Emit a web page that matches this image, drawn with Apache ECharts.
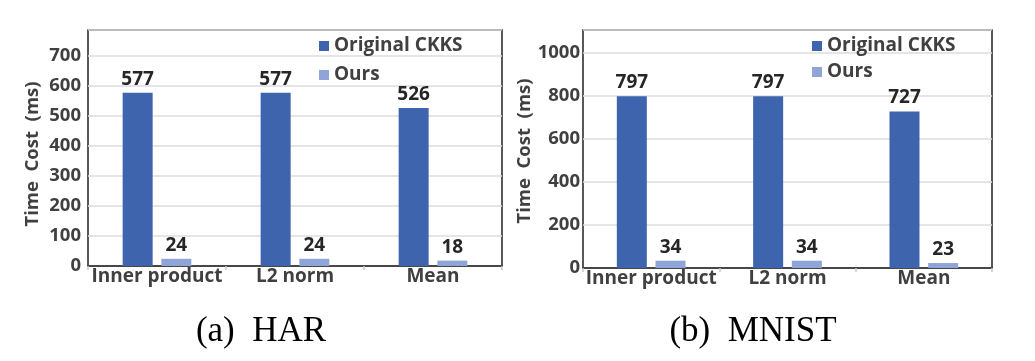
<!DOCTYPE html>
<html>
<head>
<meta charset="utf-8">
<script src="https://cdn.jsdelivr.net/npm/echarts@6/dist/echarts.min.js"></script>
<style>
html,body{margin:0;padding:0;background:#fff;}
#chart{width:1035px;height:361px;}
</style>
</head>
<body>
<div id="chart"></div>
<script>
const categories = ['Inner product', 'L2 norm', 'Mean'];
const seriesNames = ['Original CKKS', 'Ours'];
const harOriginal = [577, 577, 526];
const harOurs = [24, 24, 18];
const mnistOriginal = [797, 797, 727];
const mnistOurs = [34, 34, 23];
const captions = ['(a)  HAR', '(b)  MNIST'];
const yName = 'Time  Cost  (ms)';

const DARK = '#3D64AD';
const LIGHT = '#8FA5D7';
const FONT = '"Open Sans"';
const TXT = '#404040';

const chart = echarts.init(document.getElementById('chart'), null, {renderer: 'canvas'});

function xAxis(gi) {
  return {
    type: 'category', gridIndex: gi, data: categories,
    axisLine: {show: true, lineStyle: {color: '#222', width: 1.5}},
    axisTick: {show: true, length: 4, lineStyle: {color: '#c8c8c8', width: 1.5}},
    axisLabel: {color: TXT, fontFamily: FONT, fontWeight: 'bold', fontSize: 19, margin: 1,
                interval: 0, hideOverlap: false, align: 'center'}
  };
}
function yAxis(gi, max, interval, margin, shift) {
  return {
    type: 'value', gridIndex: gi, min: 0, max: max, interval: interval,
    name: yName, nameLocation: 'middle', nameGap: 46,
    nameTextStyle: {color: TXT, fontFamily: FONT, fontWeight: 'bold', fontSize: 18.5,
                    padding: [0, shift, 0, 0]},
    axisLine: {show: false}, axisTick: {show: false},
    splitLine: {show: true, lineStyle: {color: '#dcdcdc', width: 1.5}},
    axisLabel: {color: TXT, fontFamily: FONT, fontWeight: 'bold', fontSize: 18.5, margin: margin,
                showMaxLabel: false, formatter: function (v) { return String(v); }}
  };
}
function bar(name, data, gi, color) {
  return {
    name: name, type: 'bar', xAxisIndex: gi, yAxisIndex: gi, data: data,
    barWidth: 30, barGap: '29%',
    itemStyle: {color: color},
    label: {show: true, position: 'top', distance: 4, color: '#262626',
            fontFamily: FONT, fontWeight: 'bold', fontSize: 19}
  };
}
function legend(left, gap) {
  return {
    orient: 'vertical', left: left, top: 30, itemWidth: 10, itemHeight: 10, itemGap: gap,
    icon: 'rect', data: seriesNames,
    textStyle: {color: TXT, fontFamily: FONT, fontWeight: 'bold', fontSize: 19, lineHeight: 22}
  };
}

chart.setOption({
  animation: false,
  backgroundColor: '#fff',
  grid: [
    {left: 88, top: 30, width: 414, height: 236, show: true, borderColor: '#222', borderWidth: 1.5, containLabel: false},
    {left: 583, top: 30, width: 409, height: 238, show: true, borderColor: '#222', borderWidth: 1.5, containLabel: false}
  ],
  legend: [legend(314, 7), legend(807, 4)],
  xAxis: [xAxis(0), xAxis(1)],
  yAxis: [yAxis(0, 786, 100, 7, 12), yAxis(1, 1105, 200, 3, 4)],
  series: [
    bar(seriesNames[0], harOriginal, 0, DARK),
    bar(seriesNames[1], harOurs, 0, LIGHT),
    bar(seriesNames[0], mnistOriginal, 1, DARK),
    bar(seriesNames[1], mnistOurs, 1, LIGHT)
  ],
  graphic: [
    {type: 'text', x: 261, y: 332, style: {text: captions[0], font: '35px "Liberation Serif"', fill: '#000', align: 'center', verticalAlign: 'middle', textAlign: 'center', textVerticalAlign: 'middle'}},
    {type: 'text', x: 753, y: 332, style: {text: captions[1], font: '35px "Liberation Serif"', fill: '#000', align: 'center', verticalAlign: 'middle', textAlign: 'center', textVerticalAlign: 'middle'}}
  ]
});
</script>
</body>
</html>
